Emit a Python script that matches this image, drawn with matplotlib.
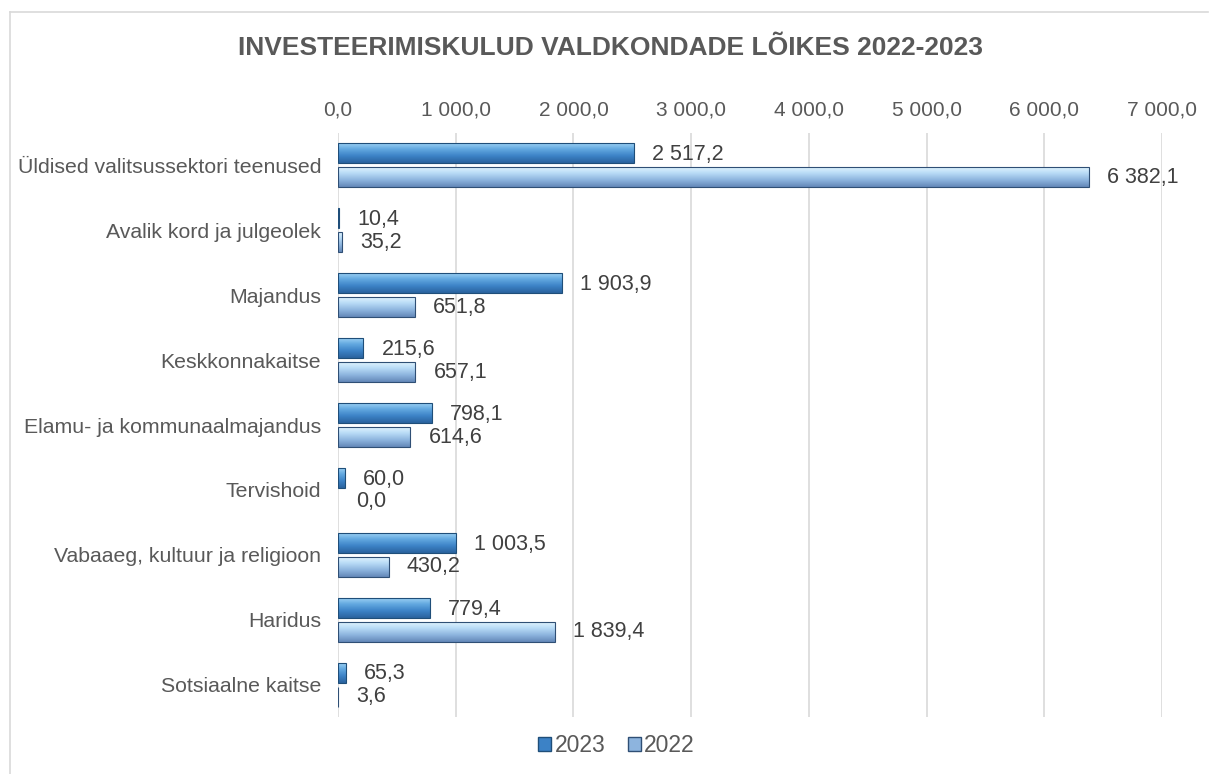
import matplotlib.pyplot as plt
import numpy as np
from matplotlib.colors import LinearSegmentedColormap
from matplotlib.lines import Line2D
from matplotlib.patches import Patch

plt.rcParams['font.family'] = ['Liberation Sans', 'DejaVu Sans']

categories = [
    "Üldised valitsussektori teenused",
    "Avalik kord ja julgeolek",
    "Majandus",
    "Keskkonnakaitse",
    "Elamu- ja kommunaalmajandus",
    "Tervishoid",
    "Vabaaeg, kultuur ja religioon",
    "Haridus",
    "Sotsiaalne kaitse",
]
values_2023 = [2517.2, 10.4, 1903.9, 215.6, 798.1, 60.0, 1003.5, 779.4, 65.3]
values_2022 = [6382.1, 35.2, 651.8, 657.1, 614.6, 0.0, 430.2, 1839.4, 3.6]
x_ticks = [0, 1000, 2000, 3000, 4000, 5000, 6000, 7000]

TEXT = "#595959"


def fmt(v):
    s = f"{v:,.1f}"
    return s.replace(",", " ").replace(".", ",")


def shade_bars(ax, bars, cmap):
    """ Fill each bar with a vertical gradient to mimic the bevel look. """
    grad = np.linspace(0, 1, 64).reshape(-1, 1)
    for b in bars:
        if b.get_width() <= 0:
            b.set_linewidth(0)
            continue
        x0, y0 = b.get_x(), b.get_y()
        w, h = b.get_width(), b.get_height()
        im = ax.imshow(grad, cmap=cmap, aspect="auto",
                       extent=(x0, x0 + w, y0 + h, y0), zorder=3,
                       interpolation="bicubic")
        im.set_clip_path(b)


cmap_23 = LinearSegmentedColormap.from_list(
    "c23", ["#a4d6f6", "#62a8e0", "#3c82c6", "#2a639e"])
cmap_22 = LinearSegmentedColormap.from_list(
    "c22", ["#e6f7ff", "#b8dbf6", "#8db4de", "#6488b8"])

fig = plt.figure(figsize=(12.09, 7.74), dpi=100)
ax = fig.add_axes([0.2796, 0.0736, 0.6815, 0.7546])

y = np.arange(len(categories))
h = 0.31
off = 0.185

bars23 = ax.barh(y - off, values_2023, height=h, color="#3c82c6",
                 edgecolor="#1f4e79", linewidth=0.8, zorder=4)
bars22 = ax.barh(y + off, values_2022, height=h, color="#8db4de",
                 edgecolor="#2f4f75", linewidth=0.8, zorder=4)
for b in list(bars23) + list(bars22):
    b.set_facecolor("none")
shade_bars(ax, bars23, cmap_23)
shade_bars(ax, bars22, cmap_22)

for b, v in zip(bars23, values_2023):
    ax.annotate(fmt(v), (v, b.get_y() + b.get_height() / 2), xytext=(13, -1),
                textcoords="offset points", va="center", ha="left",
                fontsize=15.5, color="#404040")
for b, v in zip(bars22, values_2022):
    ax.annotate(fmt(v), (v, b.get_y() + b.get_height() / 2), xytext=(13, 0),
                textcoords="offset points", va="center", ha="left",
                fontsize=15.5, color="#404040")

ax.set_xlim(0, 7000)
ax.set_ylim(len(categories) - 0.5, -0.5)
ax.set_xticks(x_ticks)
ax.set_xticklabels([fmt(t) for t in x_ticks])
ax.xaxis.tick_top()
ax.set_yticks(y)
ax.set_yticklabels(categories)
ax.tick_params(axis="x", length=0, pad=10, labelsize=15, labelcolor=TEXT)
ax.tick_params(axis="y", length=0, pad=12, labelsize=15.3, labelcolor=TEXT)
ax.grid(axis="x", color="#d9d9d9", linewidth=1.2, zorder=0)
ax.set_axisbelow(True)
for s in ax.spines.values():
    s.set_visible(False)

fig.text(0.505, 0.938, "INVESTEERIMISKULUD VALDKONDADE LÕIKES 2022-2023",
         ha="center", va="center", fontsize=19, fontweight="bold", color=TEXT)

handles = [Patch(facecolor="#3c82c6", edgecolor="#1f4e79"),
           Patch(facecolor="#8db4de", edgecolor="#2f4f75")]
fig.legend(handles, ["2023", "2022"], loc="center", bbox_to_anchor=(0.51, 0.037),
           ncol=2, frameon=False, fontsize=16.5, labelcolor=TEXT,
           handlelength=0.55, handleheight=0.55, handletextpad=0.15, columnspacing=1.0)

# light frame around the chart area
fig.add_artist(Line2D([10 / 1209, 10 / 1209], [0, 1 - 12 / 774],
                      transform=fig.transFigure, color="#d9d9d9", linewidth=1.2))
fig.add_artist(Line2D([10 / 1209, 1208 / 1209], [1 - 12 / 774, 1 - 12 / 774],
                      transform=fig.transFigure, color="#d9d9d9", linewidth=1.2))

fig.savefig("out.png", dpi=100)
plt.close(fig)
